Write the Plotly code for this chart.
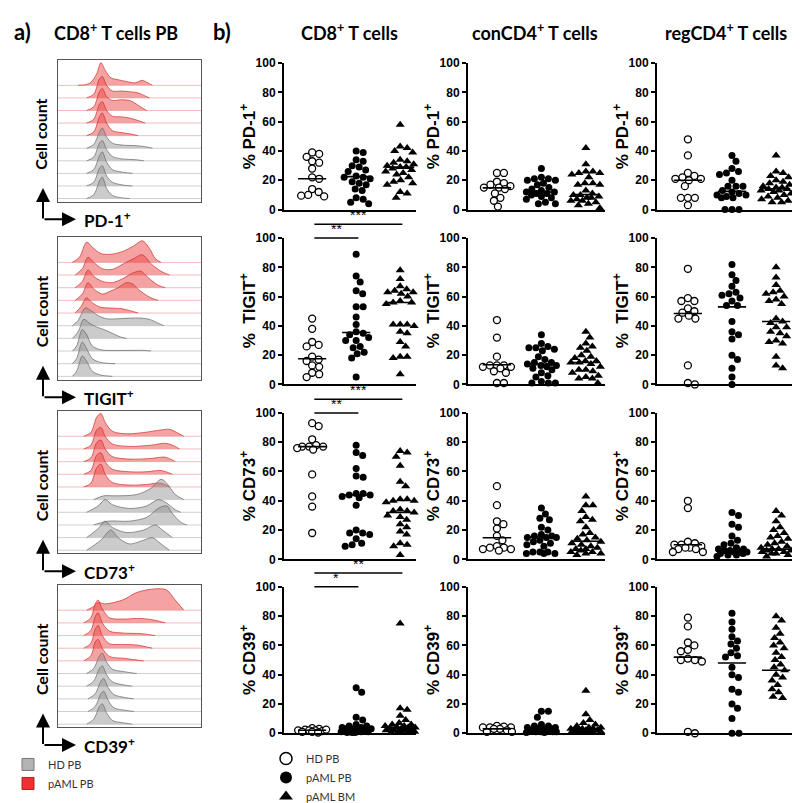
import numpy as np
import plotly.graph_objects as go

W, H = 800, 803
def px(x): return x / W
def py(y): return 1 - y / H

# ---------------- data ----------------
GROUPS = ["HD PB", "pAML PB", "pAML BM"]
CELL_TYPES = ["CD8<sup>+</sup> T cells", "conCD4<sup>+</sup> T cells", "regCD4<sup>+</sup> T cells"]
MARKER_LABELS = ["% PD-1<sup>+</sup>", "%  TIGIT<sup>+</sup>", "% CD73<sup>+</sup>", "% CD39<sup>+</sup>"]
HIST_LABELS = ["PD-1<sup>+</sup>", "TIGIT<sup>+</sup>", "CD73<sup>+</sup>", "CD39<sup>+</sup>"]
Y_TICKS = [0, 20, 40, 60, 80, 100]

CD8_PD1_HD = [39, 38, 36, 33, 32, 28, 22, 21, 14, 12, 10, 9.5, 9]
CD8_PD1_PB = [40, 39, 34, 33, 30, 29, 27, 26, 23, 22, 22, 21, 19, 18, 17, 14, 13, 8, 7, 5, 4]
CD8_PD1_BM = [58, 43, 42, 40, 39, 34, 33, 32, 31, 30, 29, 29, 28, 27, 26, 25, 24, 22, 20, 19, 18, 17, 12, 11, 8]
CD8_TIGIT_HD = [45, 38, 29, 27, 26, 19, 17, 16, 13, 12, 8, 7, 5]
CD8_TIGIT_PB = [89, 74, 70, 64, 62, 53, 53, 46, 41, 36, 35, 34, 32, 30, 30, 26, 25, 22, 21, 18, 5]
CD8_TIGIT_BM = [78, 72, 67, 65, 64, 63, 63, 62, 60, 57, 56, 56, 55, 41, 41, 41, 40, 36, 35, 29, 26, 19, 19, 18, 7]
CD8_CD73_HD = [93, 91, 82, 78, 77, 77, 76, 75, 77, 58, 43, 36, 18]
CD8_CD73_PB = [78, 73, 71, 62, 57, 56, 45, 45, 44, 44, 43, 42, 37, 20, 18, 18, 17, 14, 11, 10, 9]
CD8_CD73_BM = [74, 73, 70, 64, 53, 50, 41, 41, 40, 40, 39, 34, 33, 33, 32, 30, 29, 27, 24, 22, 19, 17, 11, 10, 9, 3]
CD8_CD39_HD = [3.5, 3, 2.5, 2, 2, 2, 1.5, 1, 1, 0.5, 2.5]
CD8_CD39_PB = [31, 28, 11, 9, 6, 5, 5, 4, 4, 3, 3, 3, 2, 2, 2, 1, 1, 1, 0.5, 0.5, 0.5]
CD8_CD39_BM = [75, 17, 16, 12, 9, 7, 6, 6, 5, 5, 4, 4, 4, 3, 3, 3, 2, 2, 2, 1, 1, 1, 0.5, 0.5, 1]

CON_PD1_HD = [25, 25, 19, 18, 17, 16, 15, 15, 14, 11, 8, 6, 2]
CON_PD1_PB = [28, 22, 21, 21, 20, 20, 18, 17, 15, 14, 13, 12, 12, 11, 11, 10, 9, 8, 7, 5, 4, 4]
CON_PD1_BM = [42, 31, 26, 26, 25, 25, 24, 22, 18, 18, 17, 17, 13, 11, 10, 10, 9, 8, 8, 7, 6, 6, 5, 4, 3, 1]
CON_TIGIT_HD = [44, 32, 19, 13, 13, 13, 12, 12, 11, 9, 8, 1, 1]
CON_TIGIT_PB = [34, 28, 26, 25, 25, 24, 23, 19, 17, 15, 15, 14, 13, 13, 12, 11, 10, 8, 6, 5, 2, 1, 1, 1]
CON_TIGIT_BM = [36, 32, 28, 26, 25, 23, 20, 19, 18, 16, 16, 15, 15, 14, 12, 10, 10, 9, 8, 6, 5, 4, 4, 1]
CON_CD73_HD = [50, 37, 26, 24, 21, 16, 13, 9, 8, 8, 7, 7, 6]
CON_CD73_PB = [35, 31, 28, 27, 22, 20, 17, 16, 16, 15, 15, 15, 13, 12, 11, 10, 9, 5, 5, 5, 4, 4, 4]
CON_CD73_BM = [43, 37, 37, 33, 29, 27, 26, 22, 18, 17, 15, 14, 13, 12, 11, 10, 9, 8, 7, 7, 6, 5, 5, 4, 4, 3]
CON_CD39_HD = [5, 4.5, 4, 4, 4, 3, 3, 2, 1, 1]
CON_CD39_PB = [15, 15, 11, 6, 5, 5, 4, 4, 3, 3, 3, 2, 2, 2, 1, 1, 1, 1, 0.5, 0.5]
CON_CD39_BM = [29, 13, 9, 7, 6, 5, 4, 4, 3, 3, 3, 2, 2, 2, 2, 2, 1, 1, 1, 1, 0.5, 0.5, 0.5]

REG_PD1_HD = [48, 37, 25, 23, 22, 21, 21, 20, 16, 8, 8, 8, 3]
REG_PD1_PB = [37, 33, 28, 26, 25, 24, 20, 16, 16, 16, 13, 12, 11, 10, 10, 9, 8, 8, 0, 0, 0]
REG_PD1_BM = [37, 26, 25, 23, 22, 20, 19, 18, 17, 16, 15, 15, 14, 14, 13, 13, 12, 11, 10, 9, 8, 7, 6, 5, 5]
REG_TIGIT_HD = [79, 59, 57, 57, 52, 50, 49, 47, 45, 45, 13, 1, 0]
REG_TIGIT_PB = [82, 75, 71, 67, 63, 62, 61, 59, 57, 54, 54, 43, 36, 34, 31, 20, 17, 11, 5, 0]
REG_TIGIT_BM = [80, 73, 68, 64, 63, 62, 60, 58, 57, 55, 45, 43, 42, 39, 39, 36, 35, 33, 30, 29, 28, 19, 13, 11]
REG_CD73_HD = [40, 35, 12, 11, 10, 10, 9, 8, 8, 7, 7, 5, 5]
REG_CD73_PB = [32, 30, 24, 22, 16, 13, 11, 10, 8, 7, 7, 6, 6, 5, 5, 5, 4, 4, 3, 3, 2]
REG_CD73_BM = [33, 30, 26, 22, 20, 18, 16, 15, 14, 12, 11, 10, 9, 8, 7, 7, 6, 6, 5, 5, 4, 4, 3, 2]
REG_CD39_HD = [79, 73, 62, 60, 57, 56, 51, 50, 50, 49, 1, 0]
REG_CD39_PB = [82, 76, 71, 66, 63, 61, 58, 55, 53, 52, 45, 40, 38, 30, 28, 20, 17, 10, 0, 0]
REG_CD39_BM = [80, 77, 72, 68, 65, 62, 60, 58, 55, 52, 50, 47, 45, 43, 40, 38, 36, 33, 30, 28, 25, 24]

# medians (rows: PD-1, TIGIT, CD73, CD39; cols: HD, PB, BM)
MED_CD8 = [[21, 22.5, 29], [17.5, 35.5, 56], [77, 44, 32], [2, 4, 4]]
MED_CON = [[14.8, 12, 10.3], [13.5, 14, 15], [14.7, 15.3, 12.4], [3, 3, 3]]
MED_REG = [[20, 12.4, 14.2], [48.5, 53, 43], [10, 6, 7], [52, 48, 43]]

PANELS = [
    [(CD8_PD1_HD, CD8_PD1_PB, CD8_PD1_BM), (CON_PD1_HD, CON_PD1_PB, CON_PD1_BM), (REG_PD1_HD, REG_PD1_PB, REG_PD1_BM)],
    [(CD8_TIGIT_HD, CD8_TIGIT_PB, CD8_TIGIT_BM), (CON_TIGIT_HD, CON_TIGIT_PB, CON_TIGIT_BM), (REG_TIGIT_HD, REG_TIGIT_PB, REG_TIGIT_BM)],
    [(CD8_CD73_HD, CD8_CD73_PB, CD8_CD73_BM), (CON_CD73_HD, CON_CD73_PB, CON_CD73_BM), (REG_CD73_HD, REG_CD73_PB, REG_CD73_BM)],
    [(CD8_CD39_HD, CD8_CD39_PB, CD8_CD39_BM), (CON_CD39_HD, CON_CD39_PB, CON_CD39_BM), (REG_CD39_HD, REG_CD39_PB, REG_CD39_BM)],
]
MEDIANS = [MED_CD8, MED_CON, MED_REG]

# significance (CD8 column): row below the bar, group from, group to, label
SIG_ROW = [1, 1, 2, 2, 3, 3]
SIG_FROM = [0, 0, 0, 0, 0, 0]
SIG_TO = [2, 1, 2, 1, 2, 1]
SIG_LABEL = ["***", "**", "***", "**", "**", "*"]

# histogram overlays: [position, height] key points, top ridge first (5 pAML PB red, then 5 HD PB gray)
PD1_RIDGES = [
    [[14, 0], [22, 0.15], [27, 0.9], [30, 1.8], [33, 1.2], [37, 0.6], [42, 0.45], [48, 0.3], [54, 0.2], [59, 0.4], [62, 0.25], [66, 0]],
    [[20, 0], [25, 0.3], [29, 1.5], [31, 1.7], [34, 1.0], [38, 0.55], [44, 0.55], [50, 0.5], [56, 0.4], [60, 0.2], [64, 0]],
    [[20, 0], [25, 0.3], [29, 1.5], [31, 1.75], [34, 1.1], [38, 0.8], [44, 0.85], [50, 0.8], [55, 0.5], [59, 0.2], [62, 0]],
    [[20, 0], [25, 0.3], [29, 1.5], [31, 1.7], [34, 1.0], [38, 0.55], [44, 0.5], [50, 0.4], [56, 0.2], [61, 0]],
    [[20, 0], [25, 0.3], [29, 1.5], [31, 1.8], [34, 1.0], [38, 0.4], [44, 0.25], [50, 0.15], [56, 0]],
    [[20, 0], [25, 0.3], [29, 1.3], [31, 1.6], [34, 0.9], [38, 0.4], [45, 0.25], [55, 0.2], [62, 0.1], [66, 0]],
    [[20, 0], [25, 0.3], [29, 1.4], [31, 1.6], [34, 0.9], [38, 0.35], [45, 0.15], [55, 0.08], [60, 0]],
    [[20, 0], [25, 0.3], [29, 1.4], [31, 1.7], [34, 0.9], [38, 0.3], [45, 0.1], [52, 0]],
    [[20, 0], [25, 0.3], [29, 1.4], [31, 1.6], [34, 0.8], [38, 0.3], [45, 0.08], [52, 0]],
    [[20, 0], [25, 0.3], [29, 1.4], [31, 1.7], [34, 0.8], [38, 0.25], [45, 0.05], [50, 0]],
]
TIGIT_RIDGES = [
    [[10, 0], [15, 0.4], [20, 1.6], [24, 1.2], [30, 0.7], [38, 0.65], [46, 0.9], [53, 1.3], [59, 1.7], [64, 1.1], [68, 0.3], [72, 0]],
    [[12, 0], [17, 0.5], [21, 1.4], [25, 1.0], [31, 0.5], [38, 0.45], [46, 0.9], [53, 1.3], [59, 1.6], [65, 0.9], [72, 0.3], [78, 0]],
    [[12, 0], [17, 0.5], [21, 1.4], [25, 0.9], [31, 0.5], [38, 0.4], [45, 0.7], [53, 1.2], [58, 1.3], [63, 0.8], [70, 0.2], [75, 0]],
    [[12, 0], [17, 0.5], [21, 1.4], [25, 0.9], [31, 0.5], [36, 0.7], [42, 1.0], [48, 1.4], [52, 1.3], [58, 0.7], [65, 0.2], [70, 0]],
    [[12, 0], [16, 0.5], [20, 1.2], [24, 0.8], [30, 0.45], [36, 0.4], [44, 0.35], [50, 0.2], [56, 0]],
    [[10, 0], [14, 0.4], [19, 1.4], [23, 1.2], [28, 0.8], [34, 0.55], [42, 0.55], [50, 0.6], [58, 0.6], [64, 0.5], [70, 0.2], [74, 0]],
    [[10, 0], [14, 0.5], [18, 1.5], [22, 1.2], [27, 0.9], [32, 0.7], [38, 0.4], [44, 0.1], [48, 0]],
    [[10, 0], [13, 0.4], [17, 1.7], [20, 1.3], [24, 0.4], [30, 0.1], [45, 0.05], [60, 0.05], [65, 0]],
    [[10, 0], [13, 0.4], [17, 1.7], [20, 1.2], [24, 0.4], [30, 0.1], [40, 0]],
    [[10, 0], [13, 0.4], [17, 1.6], [20, 1.2], [24, 0.4], [30, 0.1], [38, 0]],
]
CD73_RIDGES = [
    [[18, 0], [23, 0.3], [27, 1.5], [30, 1.8], [33, 1.1], [38, 0.4], [48, 0.2], [60, 0.3], [72, 0.5], [78, 0.55], [83, 0.3], [88, 0]],
    [[18, 0], [23, 0.3], [27, 1.5], [30, 1.7], [33, 1.0], [38, 0.4], [50, 0.2], [65, 0.3], [75, 0.45], [80, 0.3], [85, 0]],
    [[18, 0], [23, 0.3], [27, 1.5], [30, 1.7], [33, 1.0], [38, 0.4], [50, 0.2], [65, 0.25], [75, 0.35], [82, 0]],
    [[18, 0], [23, 0.3], [27, 1.5], [30, 1.7], [33, 1.0], [38, 0.4], [50, 0.2], [62, 0.2], [72, 0.3], [80, 0]],
    [[18, 0], [23, 0.3], [27, 1.5], [30, 1.8], [33, 1.0], [38, 0.35], [50, 0.15], [62, 0.2], [72, 0.3], [78, 0]],
    [[25, 0], [32, 0.3], [40, 0.3], [55, 0.4], [65, 0.9], [72, 1.6], [76, 1.3], [82, 0.4], [88, 0]],
    [[20, 0], [28, 0.5], [33, 1.0], [38, 0.6], [50, 0.3], [62, 0.5], [70, 1.0], [75, 0.8], [82, 0.2], [86, 0]],
    [[25, 0], [35, 0.3], [50, 0.3], [62, 0.6], [70, 1.3], [76, 1.5], [80, 0.9], [86, 0.2], [90, 0]],
    [[20, 0], [28, 0.7], [33, 1.3], [38, 0.8], [48, 0.4], [60, 0.6], [68, 1.0], [73, 0.6], [80, 0]],
    [[20, 0], [30, 0.8], [37, 1.6], [42, 1.0], [50, 0.5], [60, 0.8], [66, 1.0], [72, 0.5], [78, 0]],
]
CD39_RIDGES = [
    [[20, 0], [25, 0.3], [28, 0.6], [33, 0.5], [45, 0.8], [55, 1.4], [62, 1.6], [70, 1.7], [76, 1.6], [82, 0.8], [88, 0]],
    [[18, 0], [23, 0.4], [26, 1.5], [28, 1.8], [31, 1.1], [36, 0.4], [45, 0.3], [58, 0.35], [68, 0.2], [75, 0]],
    [[18, 0], [23, 0.4], [26, 1.5], [28, 1.8], [31, 1.0], [36, 0.35], [45, 0.2], [58, 0.15], [68, 0]],
    [[18, 0], [23, 0.4], [26, 1.5], [28, 1.8], [31, 1.0], [36, 0.35], [45, 0.3], [55, 0.25], [66, 0]],
    [[18, 0], [23, 0.4], [26, 1.5], [28, 1.7], [31, 1.0], [36, 0.35], [46, 0.2], [60, 0]],
    [[20, 0], [25, 0.4], [29, 1.4], [31, 1.6], [34, 0.9], [38, 0.35], [46, 0.15], [55, 0]],
    [[20, 0], [25, 0.4], [29, 1.4], [31, 1.6], [34, 0.9], [38, 0.35], [46, 0.1], [52, 0]],
    [[21, 0], [26, 0.4], [30, 1.4], [32, 1.6], [35, 0.9], [39, 0.35], [47, 0.1], [53, 0]],
    [[21, 0], [26, 0.4], [30, 1.4], [32, 1.6], [35, 0.9], [39, 0.3], [47, 0.1], [53, 0]],
    [[20, 0], [25, 0.4], [29, 1.4], [31, 1.6], [34, 0.9], [38, 0.3], [46, 0.1], [52, 0]],
]
HIST_RIDGES = [PD1_RIDGES, TIGIT_RIDGES, CD73_RIDGES, CD39_RIDGES]

# ---------------- layout geometry ----------------
ROW_TOP = [49, 227, 405, 582]
ROW_H = 149
COL_X = [(276, 408), (460, 597), (649, 795)]
XR = [(-0.64, 2.36), (-0.65, 2.43), (-0.70, 2.61)]
BOX_Y = [(46, 190), (226, 371), (403, 548), (580, 725)]
BOX_X = (50, 193)

AX_FONT = "Liberation Sans, Arial, sans-serif"
TXT_FONT = "Lato, Open Sans, sans-serif"

SYMBOLS = ["circle", "circle", "triangle-up"]
FILLS = ["white", "black", "black"]
SIZES = [7, 7, 8]


def swarm(vals, xpu, ypu, diam, maxoff):
    """Deterministic beeswarm layout (pixel space), offsets limited to +-maxoff px."""
    vals = np.asarray(vals, float)
    order = np.argsort(-vals, kind="stable")
    placed = []
    offs = np.zeros(len(vals))
    cands = [0.0]
    k = 1
    while k * 0.5 <= maxoff:
        cands += [k * 0.5, -k * 0.5]
        k += 1
    for i in order:
        yp = vals[i] * ypu
        best, bestd = 0.0, -1.0
        for c in cands:
            dmin = min([np.hypot(c - xo, yp - yo) for xo, yo in placed] or [1e9])
            if dmin >= diam:
                best = c
                break
            if dmin > bestd + 0.3:
                best, bestd = c, dmin
        placed.append((best, yp))
        offs[i] = best / xpu
    return offs


fig = go.Figure()
layout = {}
shapes = []
annotations = []


def axnames(i):
    return ("xaxis" if i == 1 else f"xaxis{i}", "yaxis" if i == 1 else f"yaxis{i}",
            "x" if i == 1 else f"x{i}", "y" if i == 1 else f"y{i}")

for r in range(4):
    for c in range(3):
        i = r * 3 + c + 1
        xa, ya, xr, yr = axnames(i)
        x0p, x1p = COL_X[c]
        layout[xa] = dict(domain=[px(x0p), px(x1p)], range=list(XR[c]), anchor=yr,
                          showline=True, linecolor="black", linewidth=2, ticks="",
                          showticklabels=False, showgrid=False, zeroline=False)
        layout[ya] = dict(domain=[py(ROW_TOP[r] + ROW_H), py(ROW_TOP[r])], range=[0, 100], anchor=xr,
                          tickvals=Y_TICKS, ticks="outside", ticklen=4, tickwidth=2, tickcolor="black",
                          showline=True, linecolor="black", linewidth=2, showgrid=False, zeroline=False,
                          tickfont=dict(family=AX_FONT, size=12, color="black", weight="bold"))
        xpu = (x1p - x0p) / (XR[c][1] - XR[c][0])
        ypu = ROW_H / 100.0
        for g in range(3):
            vals = PANELS[r][c][g]
            offs = swarm(vals, xpu, ypu, 7.0, 15.0)
            fig.add_trace(go.Scatter(
                x=g + offs, y=vals, mode="markers", xaxis=xr, yaxis=yr, showlegend=False,
                cliponaxis=False, hoverinfo="skip",
                marker=dict(symbol=SYMBOLS[g], size=SIZES[g], color=FILLS[g],
                            line=dict(color="black", width=1.3 if g == 0 else 0))))
            m = MEDIANS[c][r][g]
            fig.add_trace(go.Scatter(x=[g - 0.32, g + 0.32], y=[m, m], mode="lines", xaxis=xr, yaxis=yr,
                                     showlegend=False, hoverinfo="skip", cliponaxis=False,
                                     line=dict(color="black", width=1.6)))
        annotations.append(dict(x=px(x0p - 36), y=py(ROW_TOP[r] + ROW_H / 2), xref="paper", yref="paper",
                                text=MARKER_LABELS[r], textangle=-90, showarrow=False,
                                xanchor="center", yanchor="middle",
                                font=dict(family=AX_FONT, size=17, color="black", weight="bold")))

# significance bars (CD8 column)
for k in range(len(SIG_ROW)):
    r = SIG_ROW[k]
    i = r * 3 + 1
    _, _, xr, _ = axnames(i)
    long_bar = SIG_TO[k] == 2
    ybar = ROW_TOP[r] - (14 if long_bar else 0)
    xa0 = SIG_FROM[k] + 0.05
    xa1 = SIG_TO[k] + 0.05
    shapes.append(dict(type="line", xref=xr, yref="paper", x0=xa0, x1=xa1, y0=py(ybar), y1=py(ybar),
                       line=dict(color="black", width=1.5)))
    annotations.append(dict(x=(xa0 + xa1) / 2, y=py(ybar - 1), xref=xr, yref="paper", text=SIG_LABEL[k],
                            showarrow=False, xanchor="center", yanchor="bottom", yshift=-2,
                            font=dict(family=AX_FONT, size=14, color="black")))

# histogram panels
RED_FILL, RED_LINE, RED_BASE = "rgba(236,70,70,0.5)", "rgba(205,40,40,0.85)", "rgba(235,150,150,0.8)"
GRAY_FILL, GRAY_LINE, GRAY_BASE = "rgba(140,140,140,0.45)", "rgba(100,100,100,0.85)", "rgba(190,190,190,0.9)"
for b in range(4):
    i = 13 + b
    xa, ya, xr, yr = axnames(i)
    y0p, y1p = BOX_Y[b]
    layout[xa] = dict(domain=[px(BOX_X[0]), px(BOX_X[1])], range=[0, 100], anchor=yr, showline=True,
                      mirror=True, linecolor="#555", linewidth=1, showticklabels=False, ticks="",
                      showgrid=False, zeroline=False)
    layout[ya] = dict(domain=[py(y1p), py(y0p)], range=[-0.25, 11.0], anchor=xr, showline=True,
                      mirror=True, linecolor="#555", linewidth=1, showticklabels=False, ticks="",
                      showgrid=False, zeroline=False)
    ridges = HIST_RIDGES[b]
    n = len(ridges)
    for j, prof in enumerate(ridges):
        base = n - 1 - j
        red = j < 5
        fig.add_trace(go.Scatter(x=[0, 100], y=[base, base], mode="lines", xaxis=xr, yaxis=yr,
                                 showlegend=False, hoverinfo="skip",
                                 line=dict(color=RED_BASE if red else GRAY_BASE, width=0.8)))
        fig.add_trace(go.Scatter(x=[p[0] for p in prof], y=[base + p[1] for p in prof], mode="lines",
                                 xaxis=xr, yaxis=yr, showlegend=False, hoverinfo="skip",
                                 fill="tonexty", fillcolor=RED_FILL if red else GRAY_FILL,
                                 line=dict(color=RED_LINE if red else GRAY_LINE, width=0.8,
                                           shape="spline", smoothing=0.9)))
    ycorner = y1p + 18
    annotations.append(dict(x=px(35), y=py(y1p - 14), ax=0, ay=ycorner - (y1p - 14), xref="paper", yref="paper",
                            text="", showarrow=True, arrowhead=2, arrowsize=1.4, arrowwidth=2, arrowcolor="black"))
    annotations.append(dict(x=px(68), y=py(ycorner), ax=-33, ay=0, xref="paper", yref="paper",
                            text="", showarrow=True, arrowhead=2, arrowsize=1.4, arrowwidth=2, arrowcolor="black"))
    annotations.append(dict(x=px(74), y=py(ycorner), xref="paper", yref="paper", text=HIST_LABELS[b],
                            showarrow=False, xanchor="left", yanchor="middle",
                            font=dict(family=TXT_FONT, size=17, color="black", weight="bold")))
    annotations.append(dict(x=px(33), y=py((y0p + y1p) / 2 + 4), xref="paper", yref="paper", text="Cell count",
                            textangle=-90, showarrow=False, xanchor="center", yanchor="middle",
                            font=dict(family=TXT_FONT, size=16, color="black", weight="bold")))

# titles
annotations.append(dict(x=px(4), y=py(17), xref="paper", yref="paper", text="a)", showarrow=False,
                        xanchor="left", yanchor="middle", font=dict(family=TXT_FONT, size=22, color="black", weight="bold")))
annotations.append(dict(x=px(44), y=py(17), xref="paper", yref="paper", text="CD8<sup>+</sup> T cells PB",
                        showarrow=False, xanchor="left", yanchor="middle",
                        font=dict(family=TXT_FONT, size=18, color="black", weight="bold")))
annotations.append(dict(x=px(203), y=py(17), xref="paper", yref="paper", text="b)", showarrow=False,
                        xanchor="left", yanchor="middle", font=dict(family=TXT_FONT, size=22, color="black", weight="bold")))
for c, cx in enumerate([341, 527, 718]):
    annotations.append(dict(x=px(cx), y=py(17), xref="paper", yref="paper", text=CELL_TYPES[c],
                            showarrow=False, xanchor="center", yanchor="middle",
                            font=dict(family=TXT_FONT, size=18, color="black", weight="bold")))

# legend entries
for g in range(3):
    fig.add_trace(go.Scatter(x=[None], y=[None], mode="markers", name=GROUPS[g], legend="legend",
                             marker=dict(symbol=SYMBOLS[g], size=12, color=FILLS[g],
                                         line=dict(color="black", width=1.5 if g == 0 else 0))))
for name, col, lc in [("HD PB", "#b4b4b4", "#777"), ("pAML PB", "#f03030", "#b02020")]:
    fig.add_trace(go.Scatter(x=[None], y=[None], mode="markers", name=name, legend="legend2",
                             marker=dict(symbol="square", size=12, color=col, line=dict(color=lc, width=1))))

fig.update_layout(
    width=W, height=H, margin=dict(l=0, r=0, t=0, b=0),
    paper_bgcolor="white", plot_bgcolor="white",
    shapes=shapes, annotations=annotations,
    legend=dict(x=px(258), y=py(742), xanchor="left", yanchor="top", bgcolor="rgba(0,0,0,0)",
                traceorder="normal", font=dict(family=TXT_FONT, size=11, color="#333"), tracegroupgap=0),
    legend2=dict(x=0, y=py(748), xanchor="left", yanchor="top", bgcolor="rgba(0,0,0,0)",
                 traceorder="normal", font=dict(family=TXT_FONT, size=11, color="#333"), tracegroupgap=0),
    **layout,
)
fig.write_html("out.html")
